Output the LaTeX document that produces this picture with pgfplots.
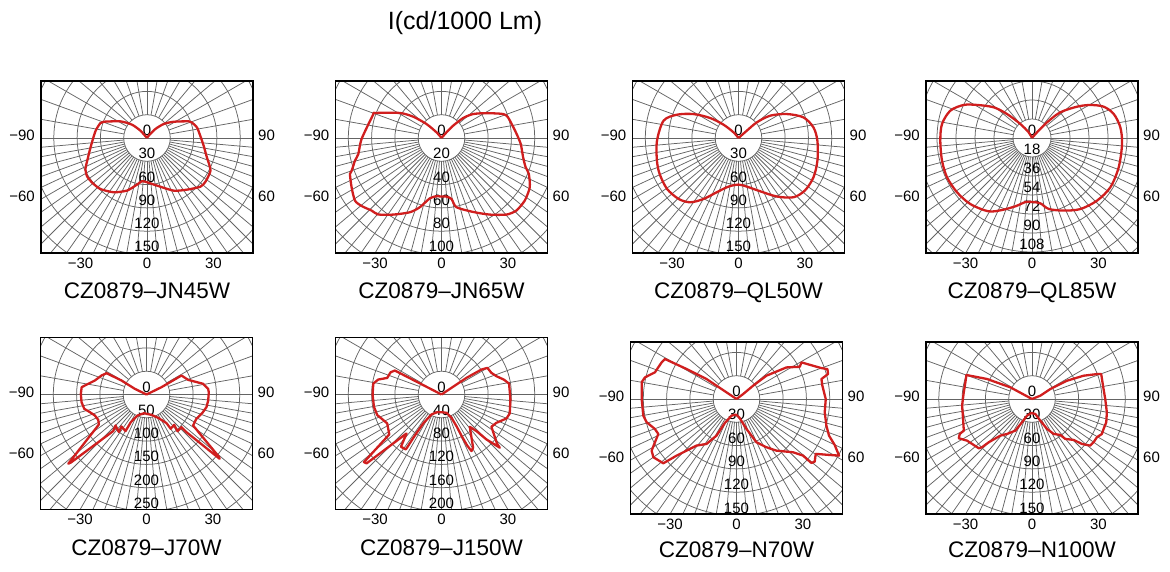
\documentclass[border=0pt]{standalone}
\usepackage{pgfplots}
\usepackage{pgfplotstable}
\usepackage{fontspec}
\setmainfont{Liberation Sans}
\pgfplotsset{compat=1.18}

\definecolor{gridc}{RGB}{100,100,100}
\definecolor{curve}{RGB}{208,30,30}

% a = angle from nadir (deg, right positive), I = cd/1000 lm
\pgfplotstableread{
a I
-180 0
-138 12.7
-131.6 25.8
-122 40.4
-110.6 59.5
-107.8 63
-97.4 67
-80 74
-68.7 82.8
-63.3 88.7
-57.4 91.6
-50.7 91
-42.5 89
-31.5 82
-20.8 72.4
-12.1 61.4
-6.6 56
0 57
11.8 62.6
26.9 76
37.6 84
47.6 93
52.8 94
58.6 93
62.7 92
66.2 88
72.1 81
82.3 73.6
92.5 68.6
102 65.7
109.2 61
111.8 57.8
121.5 40
130 28
137 15.8
144 3.7
180 0
}\dataJNfortyfive

\pgfplotstableread{
a I
-180 0
-138.6 6.5
-133 17.6
-127 30.4
-121 41.7
-110.6 61
-108.9 62
-89.3 68.6
-79.1 72.7
-75.3 76.8
-70 82
-68.6 84.4
-61.3 88
-54.1 91.7
-49.5 90
-43.9 86.5
-39.6 85.2
-32.2 77.7
-23.1 69.3
-17.4 62.3
-10.9 52.7
-4.9 50.2
0 50.3
4.9 50.5
9.3 53
12.2 60.8
23.1 69
32.2 77.7
40.3 86.2
45.9 89.5
53.1 89.4
60.8 86.8
67.7 81
70.8 76.5
76.7 72
85.7 68.2
94.4 64
107.2 59.8
111.3 56.7
119 44
127.2 34
132.7 25.3
136.6 14.5
138.6 6.5
180 0
}\dataJNsixtyfive

\pgfplotstableread{
a I
-180 0
-138.6 9.7
-131.6 25.8
-125.2 44.6
-118 65.6
-110.7 84.8
-103 99
-88.1 105
-74.5 109
-65.5 111.6
-54.6 113
-44.5 110
-36.9 103.5
-29.8 90.4
-21.7 75
-11.6 63.9
0 60
9.7 63.5
22.1 74
33.2 90
42.8 104
51.7 109
62.3 109
74 105.7
88.1 101.6
98.1 97.4
107.6 87.7
116.4 69.4
125.2 49.8
130.5 31
131.3 14.3
180 0
}\dataQLfifty

\pgfplotstableread{
a I
-180 0
-149.5 6.2
-140.2 17.3
-133.8 32.8
-128.7 46.5
-121 60.8
-115.8 71.9
-108.5 81.6
-98.8 86.3
-88.3 86.9
-75.9 87.9
-65.2 88.7
-54.1 87.7
-43 85.6
-30.6 80.7
-21.6 73
-12.5 65.7
-5.9 61
0 60.6
7.3 62.4
13.2 69
23.5 75
34.2 81.4
46 85.5
57.8 87.7
71.3 86.7
86.2 85.5
96.9 84.3
106.4 80.7
113.6 74.1
119.5 63.5
124.8 52
132.2 36.2
136.2 20.5
138.6 7.2
180 0
}\dataQLeightyfive

\pgfplotstableread{
a I
0 0
-115.9 27.8
-119.2 61.5
-118.1 97
-112.9 104.8
-105.2 114.8
-98.3 133.7
-96.4 140
-90.6 140.9
-83.3 140.4
-77 137
-72.7 127.3
-67.9 119.6
-62.3 117
-57.8 120.8
-48.5 224
-48.0 218
-42.3 106
-45 94
-36.3 100
-38 87
-29.8 90.6
-29.5 68
-23.2 49
-7.1 40.3
0 41.5
13.8 45
26.6 56
34.9 75
35.3 90
42.4 88
40.2 103
47 102.7
46.7 118
48.7 209
49.3 205
56.4 120
64 119
71.5 126
78.1 131.5
84.4 133
92.1 133.8
95.3 132.8
100.7 123.7
109.4 94.7
118.5 85.4
116 35.8
180 0
}\dataJseventy

\pgfplotstableread{
a I
0 0
-117.2 90
-113.6 95.4
-107 97.4
-103.3 111.6
-99.1 118.6
-90 118.3
-79.7 117.9
-72.2 115.8
-67 109.8
-61.9 105.6
-52.6 112.9
-48.9 176.6
-47.4 174.7
-41.9 89.8
-37.8 113.6
-33 112.4
-33 83.8
-32.3 58.8
-26.6 38.3
-13.8 31.2
0 30.3
15.3 32.6
23.2 43.5
25.3 60
26 80.8
26.7 97.9
27.9 109.9
30.7 106.3
41.2 73.7
43.7 86.9
45 109
47.6 135.5
48.6 127
57.1 102
62.7 106
69.7 118.8
74.5 121.6
85.9 118.6
99.2 117.5
103.5 109.9
108.4 99.4
113.4 93.4
120.1 91.1
122 80.9
123.7 51.5
180 0
}\dataJonefifty

\pgfplotstableread{
a I
0 0
-123.7 15.5
-123.7 46.4
-121 75
-119.2 105.5
-116.1 107.3
-108.1 110.5
-103.3 121.1
-100 124
-90 122.1
-79.9 121.9
-75.5 119.5
-69.8 111.9
-65.9 110.3
-58.7 127.9
-55 130.7
-48.7 125.4
-46.6 106.1
-40.6 79
-33.7 69.5
-28.6 53.7
-25.9 34.3
-16.7 22.4
-2.4 20.1
8.3 23.8
18.4 40.7
24.8 61.4
31.8 73.1
37.7 84
46.7 100
49.6 112.5
49.5 126.8
51.3 129
55.3 124.1
59 139.9
61.1 150.8
64.9 139.6
68.4 128.1
73.5 120.7
81.4 114.9
90 114.9
98.8 111.9
103.2 112.3
105.3 122.2
108.2 123.2
110 116.3
119.4 96
117 91.4
122.3 76.1
127.9 48.9
128.7 27.4
126.9 10.7
180 0
}\dataNseventy

\pgfplotstableread{
a I
0 0
-118.3 31.6
-114 63.3
-110.1 89.9
-104 88.4
-95.6 88.3
-84.6 90.4
-73.8 92.4
-65.1 96.8
-64.2 103.3
-61.8 107
-57.3 99.3
-53.1 96.4
-47.2 93.4
-46 89.4
-45 78.8
-40.8 62.3
-35.5 55.3
-27.8 46
-23.2 32.6
-16.7 22.4
-2.7 18
12.5 19.8
21 29.8
26.6 43.1
31.8 52.9
38.2 58.9
39.8 66.9
45.5 75.2
48 86.5
51.3 96
54.9 96.9
59.5 97
63.4 100.6
67.3 99.9
72.6 100.2
79.9 97.9
90 94.3
97.9 93
109.8 94.7
111 89.5
114.3 72.9
117.6 50.8
118.6 26.8
111.8 11.5
180 0
}\dataNonehundred

% grid, ring labels, angle labels and title of one panel
% #1 cx, #2 cy, #3 ring step, #4 ring labels, #5 title, #6 title baseline
\newcommand{\panelback}[6]{%
  \begin{scope}
    \clip (#1-106,#2-115) rectangle (#1+106,#2+57);
    \foreach \k in {1,...,9} {\draw[gridc, line width=0.75pt] (#1,#2) circle[radius={\k*#3}];}
    \foreach \t in {-85,-80,...,85} {\draw[gridc, line width=0.75pt, shift={(#1,#2)}] (\t-90:#3) -- (\t-90:220);}
    \foreach \t in {10,20,...,170} {\draw[gridc, line width=0.75pt, shift={(#1,#2)}] (\t:#3) -- (\t:220);}
    \draw[gridc, line width=0.75pt] (#1-106,#2) -- (#1+106,#2);
  \end{scope}
  \foreach \v [count=\k from 0] in {#4} {\node[anchor=base, inner sep=0pt, font=\ringfont] at (#1,{#2-\k*#3+2.5}) {\v};}
  \node[anchor=mid east, inner sep=0pt, font=\ringfont] at (#1-112,#2) {−90};
  \node[anchor=mid east, inner sep=0pt, font=\ringfont] at (#1-112,#2-61.2) {−60};
  \node[anchor=mid west, inner sep=0pt, font=\ringfont] at (#1+111,#2) {90};
  \node[anchor=mid west, inner sep=0pt, font=\ringfont] at (#1+111,#2-61.2) {60};
  \node[anchor=north, inner sep=0pt, font=\ringfont] at (#1-66.4,#2-119.5) {−30};
  \node[anchor=north, inner sep=0pt, font=\ringfont] at (#1,#2-119.5) {0};
  \node[anchor=north, inner sep=0pt, font=\ringfont] at (#1+66.4,#2-119.5) {30};
  \node[anchor=base, inner sep=0pt, font=\titlefont] at (#1,#6) {#5};
}
\newcommand{\ringfont}{\fontsize{15}{15}\selectfont}
\newcommand{\titlefont}{\fontsize{22.5}{22.5}\selectfont}

\pgfplotsset{
  panel/.style={
    anchor=south west, scale only axis,
    width=212pt, height=172pt,
    xmin=-106, xmax=106, ymin=-115, ymax=57,
    ticks=none,
    axis line style={line width=1.6pt, black},
  },
  lamp/.style={color=curve, line width=2.3pt, line join=round, no markers},
}
% polar reading: x = I*s*sin(a), y = -I*s*cos(a), s = ring step / ring value
\newcommand{\polarplot}[3][]{%
  \addplot[lamp, #1] table[x expr={\thisrow{I}*#3*sin(\thisrow{a})}, y expr={-\thisrow{I}*#3*cos(\thisrow{a})}] {#2};
}

\begin{document}
\begin{tikzpicture}[x=1pt, y=1pt]
\useasboundingbox (0,0) rectangle (1170,571);

\node[anchor=base, inner sep=0pt, font=\fontsize{25}{25}\selectfont] at (465,541.7) {I(cd/1000 Lm)};

\panelback{147}{433}{23.3}{0,30,60,90,120,150}{CZ0879–JN45W}{272.7}
\panelback{441.5}{433}{23.3}{0,20,40,60,80,100}{CZ0879–JN65W}{272.7}
\panelback{738.5}{433}{23.3}{0,30,60,90,120,150}{CZ0879–QL50W}{272.7}
\panelback{1032}{433}{19}{0,18,36,54,72,90,108}{CZ0879–QL85W}{272.7}
\panelback{146.5}{176.5}{23.3}{0,50,100,150,200,250}{CZ0879–J70W}{16}
\panelback{441.5}{176.5}{23.3}{0,40,80,120,160,200}{CZ0879–J150W}{16}
\panelback{736.5}{172}{23.3}{0,30,60,90,120,150}{CZ0879–N70W}{14}
\panelback{1032}{172}{23.3}{0,30,60,90,120,150}{CZ0879–N100W}{14}

\begin{axis}[panel, at={(41,318)}]
\polarplot[smooth, tension=0.4]{\dataJNfortyfive}{0.7767}
\end{axis}
\begin{axis}[panel, at={(335.5,318)}]
\polarplot[smooth, tension=0.4]{\dataJNsixtyfive}{1.165}
\end{axis}
\begin{axis}[panel, at={(632.5,318)}]
\polarplot[smooth, tension=0.5]{\dataQLfifty}{0.7767}
\end{axis}
\begin{axis}[panel, at={(926,318)}]
\polarplot[smooth, tension=0.5]{\dataQLeightyfive}{1.0556}
\end{axis}
\begin{axis}[panel, at={(40.5,61.5)}]
\polarplot{\dataJseventy}{0.466}
\end{axis}
\begin{axis}[panel, at={(335.5,61.5)}]
\polarplot{\dataJonefifty}{0.5825}
\end{axis}
\begin{axis}[panel, at={(630.5,57)}]
\polarplot{\dataNseventy}{0.7767}
\end{axis}
\begin{axis}[panel, at={(926,57)}]
\polarplot{\dataNonehundred}{0.7767}
\end{axis}
\end{tikzpicture}
\end{document}
